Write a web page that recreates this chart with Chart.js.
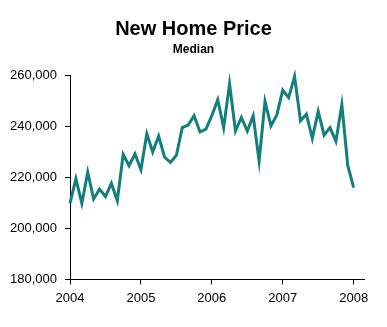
<!DOCTYPE html>
<html lang="en">
<head>
  <meta charset="UTF-8">
  <title>New Home Price</title>
  <script src="https://cdn.jsdelivr.net/npm/chart.js"></script>
  <style>
    body {
      margin: 0;
      background-color: #ffffff;
    }
    .chart-box {
      width: 387px;
      height: 327px;
    }
  </style>
</head>
<body>

<div class="chart-box">
  <canvas id="priceChart"></canvas>
</div>

<script>
  // median new home price, monthly, Jan 2004 - Jan 2008
  const price2004 = [209800, 219500, 209800, 222000, 211500, 215400, 212500, 217700, 210900, 229000, 224600, 229200];
  const price2005 = [223000, 237100, 230000, 236200, 227900, 225900, 228700, 239500, 240500, 244200, 237800, 238900];
  const price2006 = [244200, 250500, 239500, 256700, 238200, 243500, 238200, 244200, 226400, 249800, 240200, 244500];
  const price2007 = [254200, 251300, 259600, 242200, 244800, 235300, 245900, 236600, 239500, 234200, 248500, 224700];
  const price2008 = [216000];

  const yearLabels = ["2004", "2005", "2006", "2007", "2008"];
  const priceTicks = [180000, 200000, 220000, 240000, 260000];

  const allPrices = [...price2004, ...price2005, ...price2006, ...price2007, ...price2008];
  const points = allPrices.map((v, i) => ({ x: i, y: v }));

  const axisFont = { family: "'Liberation Sans', Arial, sans-serif", size: 13 };

  const ctx = document.getElementById("priceChart").getContext("2d");
  new Chart(ctx, {
    type: "line",
    data: {
      datasets: [{
        label: "Median",
        data: points,
        borderColor: "#137f7c",
        borderWidth: 3,
        pointRadius: 0,
        tension: 0,
        clip: false,
      }],
    },
    options: {
      responsive: true,
      maintainAspectRatio: false,
      animation: false,
      layout: {
        padding: { left: 0, right: 0, top: 0, bottom: 15 },
      },
      plugins: {
        legend: { display: false },
        tooltip: { enabled: false },
        title: {
          display: true,
          text: "New Home Price",
          color: "#000",
          font: { family: "'Liberation Sans', Arial, sans-serif", size: 20, weight: "bold" },
          padding: { top: 17, bottom: 1 },
        },
        subtitle: {
          display: true,
          text: "Median",
          color: "#000",
          font: { family: "'Liberation Sans', Arial, sans-serif", size: 12, weight: "bold" },
          padding: { top: 0, bottom: 19 },
        },
      },
      scales: {
        x: {
          type: "linear",
          min: 0,
          max: 49.75,
          afterBuildTicks: (scale) => {
            scale.ticks = yearLabels.map((_, i) => ({ value: i * 12 }));
          },
          ticks: {
            color: "#000",
            font: axisFont,
            padding: 6,
            maxRotation: 0,
            callback: (value) => yearLabels[Math.round(value / 12)],
          },
          grid: {
            drawOnChartArea: false,
            drawTicks: true,
            tickLength: 5,
            color: "#000",
          },
          border: { display: true, color: "#000", width: 1 },
        },
        y: {
          min: 180000,
          max: 260000,
          afterBuildTicks: (scale) => {
            scale.ticks = priceTicks.map((v) => ({ value: v }));
          },
          afterFit: (scale) => {
            scale.width = 70;
          },
          ticks: {
            color: "#000",
            font: axisFont,
            padding: 8,
            callback: (value) => value.toLocaleString("en-US"),
          },
          grid: {
            drawOnChartArea: false,
            drawTicks: true,
            tickLength: 5,
            color: "#000",
          },
          border: { display: true, color: "#000", width: 1 },
        },
        // blank right-hand spacer so the plot ends short of the edge
        // while the titles stay centred on the whole canvas
        spacer: {
          type: "linear",
          position: "right",
          afterFit: (scale) => {
            scale.width = 23;
          },
          ticks: { display: false },
          grid: { display: false },
          border: { display: false },
        },
      },
    },
  });
</script>

</body>
</html>
